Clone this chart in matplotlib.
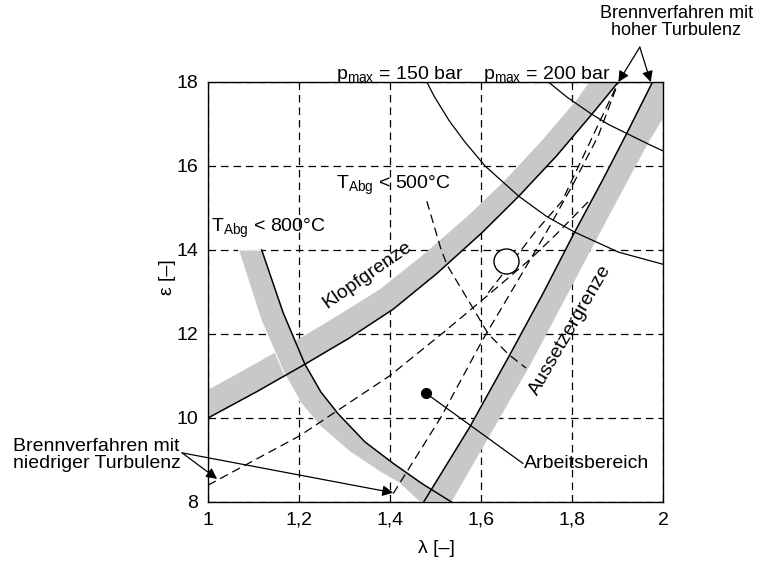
import numpy as np
import matplotlib
matplotlib.use("Agg")
import matplotlib.pyplot as plt

plt.rcParams['font.family'] = ['Liberation Sans', 'DejaVu Sans']
plt.rcParams['mathtext.fontset'] = 'custom'
plt.rcParams['mathtext.rm'] = 'Liberation Sans'
plt.rcParams['mathtext.it'] = 'Liberation Sans'

# axis ticks
x_ticks = [1.0, 1.2, 1.4, 1.6, 1.8, 2.0]
x_labels = ['1', '1,2', '1,4', '1,6', '1,8', '2']
y_ticks = [8, 10, 12, 14, 16, 18]

# Klopfgrenze (hohe Turbulenz): black line + grey band above it
klopf_lam = [1.0, 1.106, 1.213, 1.310, 1.407, 1.503, 1.602, 1.683, 1.766, 1.845, 1.902]
klopf_eps = [10.0, 10.62, 11.28, 11.90, 12.59, 13.44, 14.41, 15.28, 16.24, 17.25, 18.0]
klopf_band_lam = [1.0, 1.079, 1.185, 1.281, 1.376, 1.470, 1.569, 1.650, 1.731, 1.810, 1.838]
klopf_band_eps = [10.67, 11.14, 11.79, 12.41, 13.05, 13.86, 14.79, 15.63, 16.57, 17.57, 18.0]

# T_Abg < 800 °C
t800_lam = [1.118, 1.165, 1.213, 1.248, 1.286, 1.345, 1.407, 1.470, 1.535]
t800_eps = [14.0, 12.51, 11.28, 10.62, 10.10, 9.43, 8.92, 8.44, 8.0]
t800_band_lam = [1.067, 1.117, 1.168, 1.206, 1.247, 1.311, 1.380, 1.420, 1.465]
t800_band_eps = [14.0, 12.32, 11.05, 10.33, 9.80, 9.20, 8.70, 8.45, 8.0]

# Aussetzergrenze (hohe Turbulenz): black line + grey band to the right
auss_lam = [1.474, 1.575, 1.661, 1.737, 1.805, 1.866, 1.920, 1.977]
auss_eps = [8.0, 9.78, 11.46, 12.98, 14.41, 15.64, 16.77, 18.0]
auss_band_lam = [1.535, 1.611, 1.708, 1.839, 1.884, 1.934, 1.970, 2.0, 2.0]
auss_band_eps = [8.0, 9.43, 11.26, 13.95, 14.87, 15.88, 16.60, 17.13, 18.0]

# niedrige Turbulenz (dashed)
low_klopf_lam = [1.0, 1.202, 1.40, 1.519, 1.616, 1.706, 1.764, 1.843]
low_klopf_eps = [8.40, 9.58, 11.01, 12.05, 12.93, 13.76, 14.36, 15.23]
low_auss_lam = [1.407, 1.512, 1.602, 1.665, 1.744, 1.80, 1.857, 1.902]
low_auss_eps = [8.20, 10.02, 11.83, 12.98, 14.43, 15.52, 16.70, 18.0]
low_x_lam = [1.616, 1.719, 1.778, 1.902]
low_x_eps = [12.98, 14.43, 15.16, 18.0]

# T_Abg < 500 °C (dashed)
t500_lam = [1.481, 1.512, 1.526, 1.580, 1.616, 1.661, 1.699]
t500_eps = [15.16, 14.02, 13.63, 12.66, 12.0, 11.51, 11.19]

# p_max lines
p150_lam = [1.481, 1.497, 1.530, 1.564, 1.609, 1.683, 1.744, 1.805, 1.902, 2.0]
p150_eps = [18.0, 17.66, 17.08, 16.58, 16.0, 15.28, 14.80, 14.43, 13.95, 13.66]
p200_lam = [1.748, 1.789, 1.841, 1.880, 1.925, 1.970, 2.0]
p200_eps = [18.0, 17.64, 17.25, 16.99, 16.75, 16.51, 16.36]

opt_point = (1.656, 13.73)
work_point = (1.479, 10.59)
work_label = (1.692, 8.92)

grey = '#c8c8c8'
dash = (0, (7, 4))

fig = plt.figure(figsize=(7.58, 5.61), dpi=100)
ax = fig.add_axes([208/758, 1-502/561, 455/758, 420/561])
ax.set_xlim(1, 2)
ax.set_ylim(8, 18)
ax.set_xticks(x_ticks)
ax.set_xticklabels(x_labels)
ax.set_yticks(y_ticks)
ax.tick_params(length=0, labelsize=14, pad=7)
ax.set_axisbelow(True)
ax.grid(True, color='k', lw=0.9, ls=(0, (6, 4)))
for s in ax.spines.values():
    s.set_linewidth(1.0)

# grey bands
ax.fill(klopf_band_lam + klopf_lam[::-1], klopf_band_eps + klopf_eps[::-1],
        color=grey, lw=0, zorder=1)
ax.fill(t800_band_lam + t800_lam[::-1], t800_band_eps + t800_eps[::-1],
        facecolor=grey, edgecolor='white', lw=0.8, zorder=1.1)
ax.fill(auss_lam + auss_band_lam[::-1], auss_eps + auss_band_eps[::-1],
        color=grey, lw=0, zorder=1)

# solid limits
ax.plot(klopf_lam, klopf_eps, color='k', lw=1.1, zorder=2)
ax.plot(t800_lam, t800_eps, color='k', lw=1.1, zorder=2)
ax.plot(auss_lam, auss_eps, color='k', lw=1.1, zorder=2)
ax.plot(p150_lam, p150_eps, color='k', lw=0.9, zorder=2)
ax.plot(p200_lam, p200_eps, color='k', lw=0.9, zorder=2)

# dashed limits
for lx, ly in [(low_klopf_lam, low_klopf_eps), (low_auss_lam, low_auss_eps),
               (low_x_lam, low_x_eps), (t500_lam, t500_eps)]:
    ax.plot(lx, ly, color='k', lw=0.9, ls=dash, zorder=2)

ax.plot(*opt_point, 'o', ms=18, mfc='white', mec='k', mew=1.0, zorder=3)
ax.plot(*work_point, 'o', ms=7, color='k', zorder=3)
ax.plot([work_point[0], work_label[0]], [work_point[1], work_label[1]],
        color='k', lw=0.9, zorder=3)
ax.text(work_label[0] + 0.003, work_label[1], 'Arbeitsbereich', fontsize=14,
        ha='left', va='center')

ax.text(1.350, 13.40, 'Klopfgrenze', fontsize=14, rotation=35,
        ha='center', va='center', rotation_mode='anchor')
ax.text(1.797, 12.1, 'Aussetzergrenze', fontsize=14, rotation=60,
        ha='center', va='center', rotation_mode='anchor')
ax.text(1.133, 14.43, r'T$_{\mathrm{Abg}}$ < 800°C', fontsize=14,
        ha='center', va='baseline')
ax.text(1.407, 15.45, r'T$_{\mathrm{Abg}}$ < 500°C', fontsize=14,
        ha='center', va='baseline')
ax.text(1.422, 1.006, r'p$_{\mathrm{max}}$ = 150 bar', fontsize=14,
        ha='center', va='baseline', transform=ax.get_xaxis_transform())
ax.text(1.745, 1.006, r'p$_{\mathrm{max}}$ = 200 bar', fontsize=14,
        ha='center', va='baseline', transform=ax.get_xaxis_transform())

# callouts
arrow = dict(arrowstyle='-|>', color='k', lw=0.9, mutation_scale=16,
             shrinkA=0, shrinkB=0)
ax.text(0.571, 9.12, 'Brennverfahren mit\nniedriger Turbulenz', fontsize=14,
        ha='left', va='center', multialignment='center', linespacing=1.0)
for tip in [(1.020, 8.55), (1.407, 8.22)]:
    ax.annotate('', xy=tip, xytext=(0.943, 9.17), arrowprops=arrow,
                annotation_clip=False)
ax.text(2.029, 19.43, 'Brennverfahren mit\nhoher Turbulenz', fontsize=13,
        ha='center', va='center', multialignment='center', linespacing=1.0)
for tip in [(1.902, 18.0), (1.973, 18.0)]:
    ax.annotate('', xy=tip, xytext=(1.949, 18.83), arrowprops=arrow,
                annotation_clip=False)

ax.set_xlabel('λ [–]', fontsize=14)
ax.xaxis.set_label_coords(0.501, -0.09)
ax.set_ylabel('ε [–]', fontsize=14)
ax.yaxis.set_label_coords(-0.07, 0.536)

fig.savefig('out.png', dpi=100)
